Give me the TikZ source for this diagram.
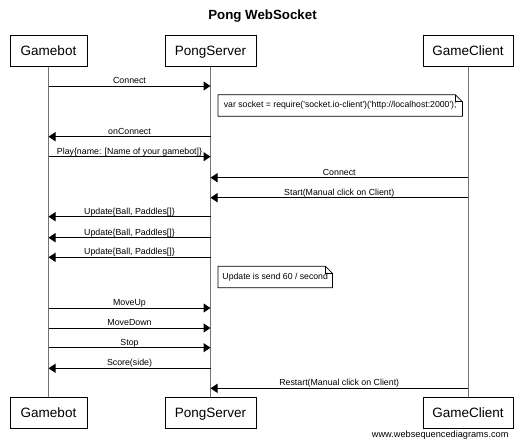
\documentclass[tikz,border=0pt]{standalone}
\usepackage{fontspec}
\setmainfont{Liberation Sans}
\newfontfamily\notefont{Liberation Sans}
\usetikzlibrary{arrows.meta}
\tikzset{
	actor/.style={draw,line width=1pt,minimum height=31pt,text height=9.7pt,text depth=0pt,font=\fontsize{13.5}{16}\selectfont},
	life/.style={draw=black!55,line width=1pt},
	msg/.style={line width=1pt,-{Triangle[length=7pt,width=9pt]}},
	msglabel/.style={anchor=base,inner sep=0pt,yshift=2.5pt,font=\fontsize{8.8}{10}\selectfont},
	notebox/.style={anchor=west,inner xsep=3pt,inner ysep=0pt,minimum height=21pt,font=\notefont\fontsize{8.7}{10}\selectfont},
	fold/.style={draw,line width=0.8pt}
}
\begin{document}
\begin{tikzpicture}[x=1pt,y=-1pt]
	\useasboundingbox (0,0) rectangle (530,445);
	\node[anchor=base,font=\bfseries\fontsize{13.3}{16}\selectfont] (title) at (262.5,19.5) {Pong WebSocket};
	\node[actor,minimum width=77pt] (gb) at (48.5,50.5) {Gamebot};
	\node[actor,minimum width=91pt] (ps) at (210.5,50.5) {PongServer};
	\node[actor,minimum width=90pt] (gc) at (468,50.5) {GameClient};
	\node[actor,minimum width=77pt] (gbb) at (48.5,412.5) {Gamebot};
	\node[actor,minimum width=91pt] (psb) at (210.5,412.5) {PongServer};
	\node[actor,minimum width=90pt] (gcb) at (468,412.5) {GameClient};
	\draw[life] (gb) -- (gbb);
	\draw[life] (ps) -- (psb);
	\draw[life] (gc) -- (gcb);
	\foreach \y/\a/\b/\txt in {86/gb/ps/Connect, 136.7/ps/gb/onConnect,
			156.7/gb/ps/{Play\{name: [Name of your gamebot]\}}, 177.7/gc/ps/Connect,
			197.7/gc/ps/{Start(Manual click on Client)}, 216.7/ps/gb/{Update\{Ball, Paddles[]\}},
			237.7/ps/gb/{Update\{Ball, Paddles[]\}}, 257.3/ps/gb/{Update\{Ball, Paddles[]\}},
			308/gb/ps/MoveUp, 328/gb/ps/MoveDown, 347.7/gb/ps/Stop, 368.3/ps/gb/Score(side),
			388.3/gc/ps/{Restart(Manual click on Client)}}
		\draw[msg] (\a |- 0,\y) -- node[msglabel] {\txt} (\b |- 0,\y);
	\node[notebox,minimum width=244pt] (note1) at (218,105.5) {var socket = require('socket.io-client')('http://localhost:2000');};
	\node[notebox,minimum width=114pt] (note2) at (218,277) {Update is send 60 / second};
	\foreach \n in {note1,note2} {
		\draw[fold] (\n.north west) -- ([xshift=-7pt]\n.north east) -- ([yshift=-7pt]\n.north east) -- (\n.south east) -- (\n.south west) -- cycle;
		\draw[fold] ([xshift=-7pt]\n.north east) |- ([yshift=-7pt]\n.north east);
	}
	\node[anchor=east,font=\fontsize{9.2}{11}\selectfont] (credit) at (512,435) {www.websequencediagrams.com};
\end{tikzpicture}
\end{document}
